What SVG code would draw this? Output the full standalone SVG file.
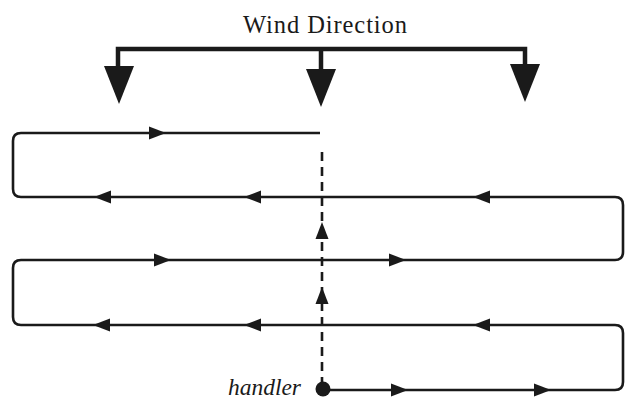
<svg xmlns="http://www.w3.org/2000/svg" xmlns:xlink="http://www.w3.org/1999/xlink" width="626" height="418" viewBox="0 0 626 418">
<style>
.ln{fill:none;stroke:#1a1a1a;stroke-width:2.6;stroke-linejoin:round}
.bar{fill:none;stroke:#1a1a1a;stroke-width:4.5;stroke-linejoin:miter}
.ds{fill:none;stroke:#1a1a1a;stroke-width:2.6;stroke-dasharray:9 6}
.hd{fill:#1a1a1a}
.t{font-family:"Liberation Serif",serif;fill:#1a1a1a}
</style>
<defs>
<path id="ar" d="M0,0 L-17,-6.5 L-17,6.5 Z"/>
<path id="wa" d="M-15,0 L15,0 L0,38 Z"/>
</defs>
<rect width="626" height="418" fill="#fff"/>
<g id="wind">
<text class="t" x="243" y="33" font-size="24.5" textLength="164" lengthAdjust="spacing">Wind Direction</text>
<path class="bar" d="M118,68 V49 H525 V66 M321,49 V70"/>
<use xlink:href="#wa" class="hd" x="119" y="66"/>
<use xlink:href="#wa" class="hd" x="321" y="69"/>
<use xlink:href="#wa" class="hd" x="525" y="64"/>
</g>
<g id="connectors">
<path class="ln" d="M322,390 H615 Q623,390 623,382 V333 Q623,325 615,325 H21 Q13,325 13,317 V268 Q13,260 21,260 H615 Q623,260 623,252 V205 Q623,197 615,197 H21 Q13,197 13,189 V141 Q13,133 21,133 H320"/>
<path class="ds" d="M322,152 V384"/>
<g class="hd">
<use xlink:href="#ar" transform="translate(166,133)"/>
<use xlink:href="#ar" transform="translate(94,197) rotate(180)"/>
<use xlink:href="#ar" transform="translate(244,197) rotate(180)"/>
<use xlink:href="#ar" transform="translate(473,197) rotate(180)"/>
<use xlink:href="#ar" transform="translate(171,260)"/>
<use xlink:href="#ar" transform="translate(406,260)"/>
<use xlink:href="#ar" transform="translate(93,325) rotate(180)"/>
<use xlink:href="#ar" transform="translate(244,325) rotate(180)"/>
<use xlink:href="#ar" transform="translate(473,325) rotate(180)"/>
<use xlink:href="#ar" transform="translate(408,390)"/>
<use xlink:href="#ar" transform="translate(551,390)"/>
<use xlink:href="#ar" transform="translate(322,222) rotate(-90)"/>
<use xlink:href="#ar" transform="translate(322,287) rotate(-90)"/>
</g>
</g>
<g id="handler">
<circle class="hd" cx="323" cy="389" r="7.5"/>
<text class="t" x="228" y="395" font-size="23.5" font-style="italic" textLength="73" lengthAdjust="spacing">handler</text>
</g>
</svg>
